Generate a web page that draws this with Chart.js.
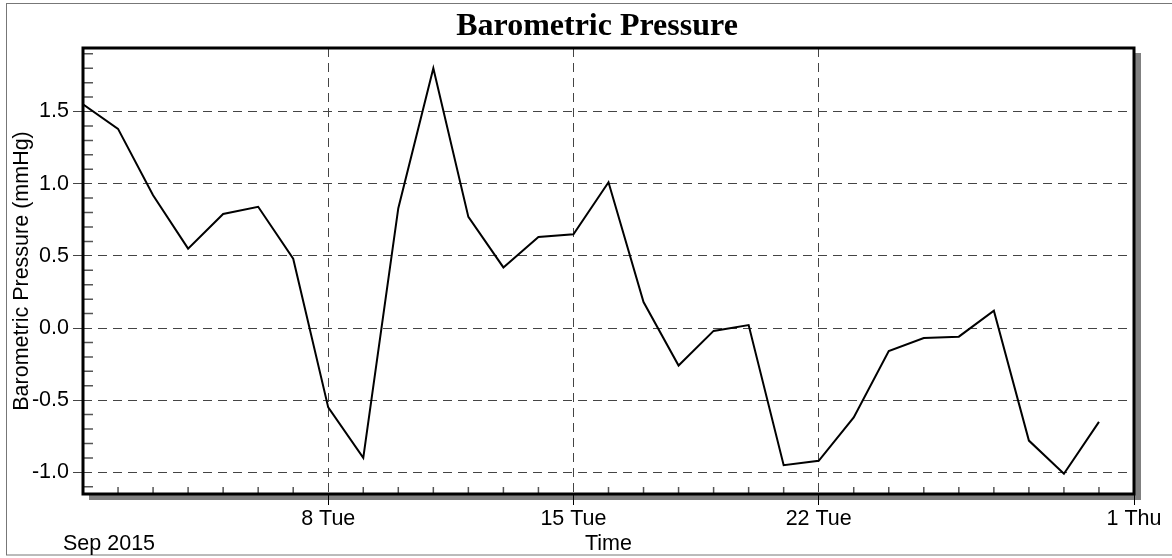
<!DOCTYPE html>
<html>
<head>
<meta charset="utf-8">
<script src="https://cdn.jsdelivr.net/npm/chart.js@4.4.1/dist/chart.umd.min.js"></script>
<style>
  body { margin: 0; background: #fff; }
  #wrap { width: 1172px; height: 558px; }
</style>
</head>
<body>
<div id="wrap"><canvas id="pressureChart" width="1172" height="558"></canvas></div>
<script>
// days of September 2015 (x = days since Sep 1)
var dayOfMonth = [1, 2, 3, 4, 5, 6, 7, 8, 9, 10, 11, 12, 13, 14, 15,
                  16, 17, 18, 19, 20, 21, 22, 23, 24, 25, 26, 27, 28, 29, 30];
var pressure = [1.55, 1.38, 0.92, 0.55, 0.79, 0.84, 0.48, -0.55, -0.90, 0.83,
                1.80, 0.77, 0.42, 0.63, 0.65, 1.01, 0.18, -0.26, -0.02, 0.02,
                -0.95, -0.92, -0.62, -0.16, -0.07, -0.06, 0.12, -0.78, -1.01, -0.65];
var xTickDays = [7, 14, 21, 30];
var xTickLabels = ["8 Tue", "15 Tue", "22 Tue", "1 Thu"];
var yMin = -1.15, yMax = 1.94;

var sans = "'Liberation Sans', Arial, sans-serif";

var points = dayOfMonth.map(function (d, i) { return { x: d - 1, y: pressure[i] }; });

function isMajor(v) { return xTickDays.indexOf(v) >= 0; }

var decor = {
  id: 'decor',
  beforeDraw: function (chart) {
    var ctx = chart.ctx, a = chart.chartArea;
    ctx.save();
    ctx.fillStyle = '#fff';
    ctx.fillRect(0, 0, chart.width, chart.height);
    ctx.fillStyle = '#808080';
    ctx.fillRect(a.left + 6, a.top + 5, a.right - a.left + 1, a.bottom - a.top + 1);
    ctx.fillStyle = '#fff';
    ctx.fillRect(a.left, a.top, a.right - a.left, a.bottom - a.top);
    ctx.restore();
  },
  afterDraw: function (chart) {
    var ctx = chart.ctx, a = chart.chartArea;
    var xs = chart.scales.x, ys = chart.scales.y;
    ctx.save();
    // outer frame
    ctx.strokeStyle = '#777';
    ctx.lineWidth = 1;
    ctx.strokeRect(6.5, 3.5, 1300, 551.5);
    // minor ticks, pointing inward
    ctx.strokeStyle = '#555';
    ctx.lineWidth = 1.5;
    ctx.beginPath();
    for (var k = -11; k <= 19; k++) {
      if (k % 5 === 0) continue;
      var py = ys.getPixelForValue(k / 10);
      ctx.moveTo(a.left, py); ctx.lineTo(a.left + 10, py);
    }
    for (var d = 1; d < 30; d++) {
      if (isMajor(d)) continue;
      var px = xs.getPixelForValue(d);
      ctx.moveTo(px, a.bottom); ctx.lineTo(px, a.bottom - 7);
    }
    ctx.stroke();
    // plot frame
    ctx.strokeStyle = '#000';
    ctx.lineWidth = 3;
    ctx.strokeRect(a.left, a.top, a.right - a.left, a.bottom - a.top);
    // texts
    ctx.fillStyle = '#000';
    ctx.font = "bold 32px 'Liberation Serif', 'Times New Roman', serif";
    ctx.textAlign = 'center';
    ctx.textBaseline = 'alphabetic';
    ctx.fillText('Barometric Pressure', 597, 35);
    ctx.font = '21.5px ' + sans;
    ctx.fillText('Time', (a.left + a.right) / 2, 550);
    ctx.textAlign = 'left';
    ctx.fillText('Sep 2015', 63, 550);
    ctx.translate(28, (a.top + a.bottom) / 2);
    ctx.rotate(-Math.PI / 2);
    ctx.textAlign = 'center';
    ctx.fillText('Barometric Pressure (mmHg)', 0, 0);
    ctx.restore();
  }
};

new Chart(document.getElementById('pressureChart'), {
  type: 'line',
  data: {
    datasets: [{
      data: points,
      borderColor: '#000',
      borderWidth: 2,
      pointRadius: 0,
      tension: 0,
      fill: false
    }]
  },
  options: {
    responsive: false,
    animation: false,
    layout: { padding: { left: 0, top: 48, right: 38, bottom: 0 } },
    plugins: { legend: { display: false }, title: { display: false }, tooltip: { enabled: false } },
    scales: {
      x: {
        type: 'linear',
        min: 0,
        max: 30,
        afterFit: function (s) { s.height = 64; },
        border: { display: false, dash: [9, 6] },
        grid: {
          color: function (c) { return c.tick && isMajor(c.tick.value) && c.tick.value < 30 ? '#444' : 'rgba(0,0,0,0)'; },
          tickColor: function (c) { return c.tick && isMajor(c.tick.value) ? '#000' : 'rgba(0,0,0,0)'; },
          lineWidth: 1,
          tickLength: 11
        },
        ticks: {
          stepSize: 1,
          autoSkip: false,
          maxRotation: 0,
          color: '#000',
          padding: 1,
          font: { family: sans, size: 21.5 },
          callback: function (v) {
            var i = xTickDays.indexOf(v);
            return i >= 0 ? xTickLabels[i] : '';
          }
        }
      },
      y: {
        min: yMin,
        max: yMax,
        afterFit: function (s) { s.width = 83; },
        border: { display: false, dash: [9, 6] },
        grid: { color: '#444', tickColor: '#444', lineWidth: 1, tickLength: 10 },
        ticks: {
          stepSize: 0.5,
          includeBounds: false,
          color: '#000',
          padding: 4,
          font: { family: sans, size: 21.5 },
          callback: function (v) { return v.toFixed(1); }
        }
      }
    }
  },
  plugins: [decor]
});
</script>
</body>
</html>
